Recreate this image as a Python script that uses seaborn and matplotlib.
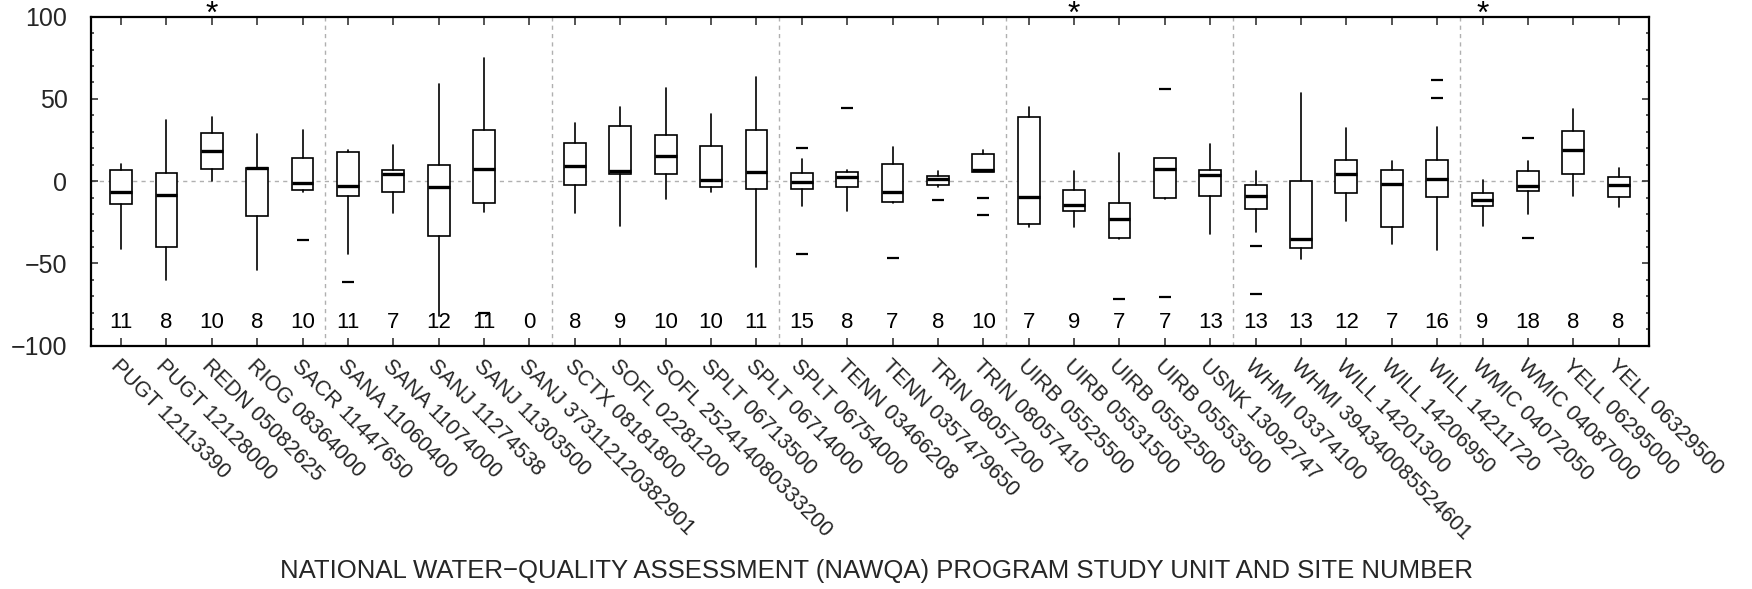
import matplotlib
matplotlib.use("Agg")
import matplotlib.pyplot as plt
from matplotlib.ticker import MultipleLocator
import seaborn as sns
import pandas as pd

# Study unit and site numbers
sites = [
    "PUGT 12113390", "PUGT 12128000", "REDN 05082625", "RIOG 08364000", "SACR 11447650",
    "SANA 11060400", "SANA 11074000", "SANJ 11274538", "SANJ 11303500", "SANJ 373112120382901",
    "SCTX 08181800", "SOFL 02281200", "SOFL 252414080333200", "SPLT 06713500", "SPLT 06714000",
    "SPLT 06754000", "TENN 03466208", "TENN 0357479650", "TRIN 08057200", "TRIN 08057410",
    "UIRB 05525500", "UIRB 05531500", "UIRB 05532500", "UIRB 05553500", "USNK 13092747",
    "WHMI 03374100", "WHMI 394340085524601", "WILL 14201300", "WILL 14206950", "WILL 14211720",
    "WMIC 04072050", "WMIC 04087000", "YELL 06295000", "YELL 06329500",
]

# Number of samples per site
n_samples = [11, 8, 10, 8, 10, 11, 7, 12, 11, 0,
             8, 9, 10, 10, 11, 15, 8, 7, 8, 10,
             7, 9, 7, 7, 13, 13, 13, 12, 7, 16,
             9, 18, 8, 8]

# Box statistics (None where a site has no samples)
whisker_low = [-41, -60, 0, -54, -6.5, -44, -19.5, -82, -18.5, None,
               -19.5, -27, -11, -6.7, -52, -15, -18, -13, -3.6, 5.3,
               -28, -27.6, -35, -10.7, -32, -31, -47, -24, -38, -42,
               -27, -19.7, -8.7, -15.4]
q1 = [-14, -40, 7.3, -21, -5.5, -8.9, -6.7, -33, -13, None,
      -2.6, 4.1, 4.3, -3.4, -4.7, -4.7, -3.6, -12.6, -2.4, 5.7,
      -26, -18, -34.4, -10.1, -9.1, -17, -40.7, -6.9, -28, -9.9,
      -14.8, -6.1, 4.1, -9.5]
medians = [-6.7, -8.1, 18.4, 7.9, -0.8, -2.8, 4.5, -3.8, 7.3, None,
           9.5, 6.3, 15.4, 0.8, 5.7, -0.4, 2.8, -6.7, 1.4, 6.9,
           -9.3, -14.6, -22.7, 7.5, 3.8, -8.9, -35, 4.5, -1.8, 1.6,
           -11.3, -3.2, 19.2, -2.6]
q3 = [6.9, 5.1, 29.6, 8.3, 13.8, 17.8, 7.1, 9.7, 31.4, None,
      23.5, 33.8, 28.2, 21.1, 31.4, 4.7, 5.7, 10.7, 3.4, 16.6,
      39.3, -5.5, -13, 14.4, 6.7, -2.2, 0.2, 12.6, 6.7, 12.8,
      -6.9, 6.5, 30.6, 2.8]
whisker_high = [10.3, 37, 39, 28.4, 31.4, 19.2, 21.9, 59, 75, None,
                35.3, 45, 56.7, 41.1, 63.6, 13.4, 7.1, 20.7, 6.3, 18.8,
                44.8, 5.9, 17, 14.4, 22.7, 6.1, 53.5, 32.6, 12, 33,
                1, 12.2, 43.8, 7.9]
outliers = [[], [], [], [], [-35.5], [-61], [], [], [-80], [],
            [], [], [], [], [], [19.9, -44], [44.4], [-46.8], [-11.5], [-10.1, -20.5],
            [], [], [-71.7], [56.3, -70.1], [], [-39.1, -68.5], [], [], [], [61.4, 50.7],
            [], [26.5, -34.6], [], []]

# Sites flagged with an asterisk
flagged = ["REDN 05082625", "UIRB 05531500", "WMIC 04072050"]

sns.set_theme(style="ticks")
plt.rcParams["font.family"] = ["Liberation Sans", "DejaVu Sans"]
plt.rcParams["axes.unicode_minus"] = True

fig = plt.figure(figsize=(17.52, 5.89), dpi=100)
ax = fig.add_axes([0.052, 0.413, 0.889, 0.5587])

positions = list(range(len(sites)))

# Reference lines: zero and study-group separators
ax.axhline(0, color="#b0b0b0", lw=1.0, ls=(0, (3, 3)), zorder=0)
for b in range(5, len(sites), 5):
    ax.axvline(b - 0.5, color="#b0b0b0", lw=1.0, ls=(0, (3, 3)), zorder=0)

stats, pos = [], []
for i in positions:
    if medians[i] is None:
        continue
    stats.append(dict(whislo=whisker_low[i], q1=q1[i], med=medians[i],
                      q3=q3[i], whishi=whisker_high[i], fliers=[]))
    pos.append(i)

ax.bxp(stats, positions=pos, widths=0.48, showcaps=False, showfliers=False,
       patch_artist=True,
       boxprops=dict(facecolor="white", edgecolor="black", linewidth=1.2),
       medianprops=dict(color="black", linewidth=2.4, solid_capstyle="butt"),
       whiskerprops=dict(color="black", linewidth=1.2),
       manage_ticks=False, zorder=3)

# Outliers drawn as short horizontal dashes
fl = pd.DataFrame([(i, v) for i in positions for v in outliers[i]], columns=["pos", "value"])
sns.scatterplot(data=fl, x="pos", y="value", marker="_", s=70, color="black",
                linewidth=1.6, ax=ax, zorder=4, legend=False)

# Sample counts
for i in positions:
    ax.text(i, -86, str(n_samples[i]), ha="center", va="center", fontsize=16, color="black")

# Asterisks for flagged sites
for s in flagged:
    ax.text(sites.index(s), 0.982, "*", transform=ax.get_xaxis_transform(),
            ha="center", va="baseline", fontsize=23, color="black")

ax.set_xlim(-0.66, len(sites) - 0.34)
ax.set_ylim(-100, 100)
ax.yaxis.set_major_locator(MultipleLocator(50))
ax.yaxis.set_minor_locator(MultipleLocator(10))
ax.set_xticks(positions)
ax.set_xticklabels(sites, rotation=-45, ha="left", va="top", rotation_mode="anchor", fontsize=15.5)
ax.tick_params(axis="x", which="major", direction="in", length=6, width=1.1,
               top=True, bottom=True, pad=7)
ax.tick_params(axis="y", which="major", direction="in", length=5, width=1.1,
               left=True, right=True, labelsize=18, pad=17)
ax.tick_params(axis="y", which="minor", direction="in", length=2.5, width=1.1,
               left=True, right=True)
ax.set_xlabel("")
ax.set_ylabel("")
for sp in ax.spines.values():
    sp.set_linewidth(1.6)
    sp.set_color("black")

fig.text(0.5, 1 - 571 / 589, "NATIONAL WATER\u2212QUALITY ASSESSMENT (NAWQA) PROGRAM STUDY UNIT AND SITE NUMBER",
         ha="center", va="center", fontsize=18.5)

fig.savefig("out.png", dpi=100, facecolor="white")
